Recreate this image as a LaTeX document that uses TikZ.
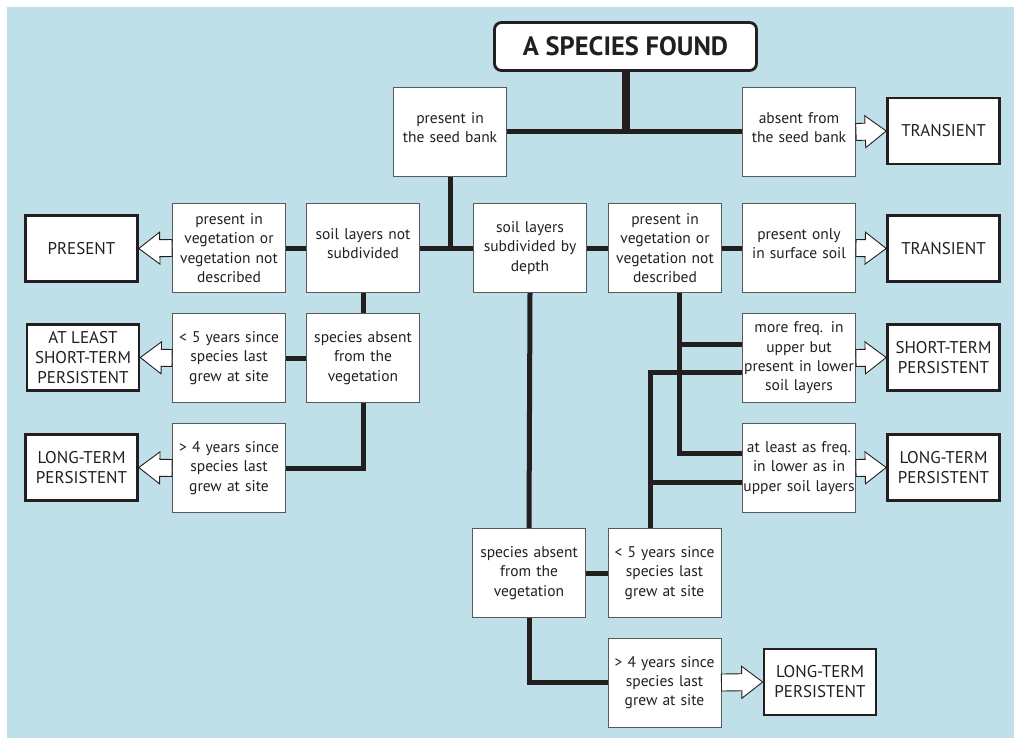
\documentclass[tikz,border=0pt]{standalone}
\usepackage{fontspec}
\setmainfont{PT Sans}
\usetikzlibrary{calc}

\definecolor{panelblue}{RGB}{191,224,232}
\definecolor{ink}{RGB}{35,31,32}
\definecolor{edgegray}{RGB}{88,89,91}

% hollow block arrow between two anchors
\newcommand{\blockarrow}[2]{%
  \coordinate (ba-s) at (#1); \coordinate (ba-t) at (#2);
  \coordinate (ba-h) at ($(ba-t)!21pt!(ba-s)$);
  \draw[hollow] ($(ba-s)!8.5pt!90:(ba-t)$) -- ($(ba-h)!8.5pt!90:(ba-t)$) --
    ($(ba-h)!16pt!90:(ba-t)$) -- (ba-t) -- ($(ba-h)!16pt!-90:(ba-t)$) --
    ($(ba-h)!8.5pt!-90:(ba-t)$) -- ($(ba-s)!8.5pt!-90:(ba-t)$) -- cycle;}

\begin{document}
\begin{tikzpicture}[x=1pt, y=-1pt, text=ink,
      step box/.style={draw=edgegray, line width=0.9pt, fill=white, align=center,
      minimum width=113pt, minimum height=89pt, text width=113pt, inner sep=0pt,
      font=\fontsize{15.5}{19.3}\selectfont},
      lift/.style={text depth=28pt},
      result/.style={draw=ink, line width=2.6pt, fill=white, align=center,
      minimum width=112pt, minimum height=66pt, inner sep=0pt,
      font=\fontsize{17}{20}\selectfont},
      title/.style={draw=ink, line width=2.8pt, fill=white, rounded corners=7pt,
      minimum width=262pt, minimum height=48pt, font=\fontsize{26.5}{30}\bfseries},
      link/.style={draw=ink, line width=5pt},
      hollow/.style={draw=ink, fill=white, line width=0.9pt, line join=miter} ]

    \useasboundingbox (0,0) rectangle (1014,738);
    \fill[panelblue] (7,7) rectangle (1014,738);

    % Top
    \node[title] (found) at (625.5,46.5) {A SPECIES FOUND};
    \node[step box, lift] (seedP) at (450,132) {present in\\the seed bank};
    \node[step box, lift] (seedA) at (799,132) {absent from\\the seed bank};
    \node[result] (trans1) at (943.5,131) {TRANSIENT};

    % Left panel
    \node[step box, lift] (nsub) at (363,248) {soil layers not\\subdivided};
    \node[step box] (vegL) at (229,248) {present in\\vegetation or\\vegetation not\\described};
    \node[result] (presL) at (81.5,248.5) {PRESENT};
    \node[step box] (absL) at (363,358) {species absent\\from the\\vegetation};
    \node[step box] (lt5L) at (229,358) {< 5 years since\\species last\\grew at site};
    \node[result] (leastL) at (83,357.5) {AT LEAST\\SHORT-TERM\\PERSISTENT};
    \node[step box] (gt4L) at (229,468) {> 4 years since\\species last\\grew at site};
    \node[result] (longL) at (81.5,467.5) {LONG-TERM\\PERSISTENT};

    % Right panel
    \node[step box] (sub) at (530,248) {soil layers\\subdivided by\\depth};
    \node[step box] (vegR) at (665,248) {present in\\vegetation or\\vegetation not\\described};
    \node[step box, lift] (surf) at (799,248) {present only\\in surface soil};
    \node[result] (trans2) at (943.5,248.5) {TRANSIENT};
    \node[step box] (more) at (799,358) {more freq. in\\upper but\\present in lower\\soil layers};
    \node[result] (short) at (943.5,357.5) {SHORT-TERM\\PERSISTENT};
    \node[step box] (least) at (799,468) {at least as freq.\\in lower as in\\upper soil layers};
    \node[result] (longR) at (943.5,467.5) {LONG-TERM\\PERSISTENT};
    \node[step box] (absB) at (529,573) {species absent\\from the\\vegetation};
    \node[step box] (lt5B) at (664.5,573) {< 5 years since\\species last\\grew at site};
    \node[step box] (gt4B) at (664.5,682.5) {> 4 years since\\species last\\grew at site};
    \node[result] (longB) at (820,682) {LONG-TERM\\PERSISTENT};

    % Connectors
    \draw[link, line width=8pt] (found.south) -- (found.south |- seedP.east);
    \draw[link] (seedP.east) -- (seedA.west);
    \draw[link] (seedP.south) -- (seedP.south |- nsub.east);
    \draw[link] (nsub.east) -- (sub.west); \draw[link] (vegL.east) -- (nsub.west);
    \draw[link] (nsub.south) -- (absL.north); \draw[link] (lt5L.east) -- (absL.west);
    \draw[link] (absL.south) |- (gt4L.east);
    \draw[link] (sub.east) -- (vegR.west); \draw[link] (vegR.east) -- (surf.west);
    \draw[link] (sub.south) -- (absB.north); \draw[link] (absB.east) -- (lt5B.west);
    \draw[link] (absB.south) |- (gt4B.west);

    \coordinate (jR) at ([xshift=14pt]vegR.south);
    \coordinate (jB) at ([xshift=-14.5pt]lt5B.north);
    \draw[link] (jR) |- ([yshift=15pt]least.west);
    \draw[link] ([yshift=14pt]more.west) -| (jR);
    \draw[link] (jB) |- ([yshift=-14pt]more.west);
    \draw[link] ([yshift=-14pt]least.west) -| (jB);

    % Outcomes
    \blockarrow{seedA.east}{trans1.west} \blockarrow{vegL.west}{presL.east}
    \blockarrow{lt5L.west}{leastL.east} \blockarrow{gt4L.west}{longL.east}
    \blockarrow{surf.east}{trans2.west} \blockarrow{more.east}{short.west}
    \blockarrow{least.east}{longR.west} \blockarrow{gt4B.east}{longB.west}

  \end{tikzpicture}
\end{document}
